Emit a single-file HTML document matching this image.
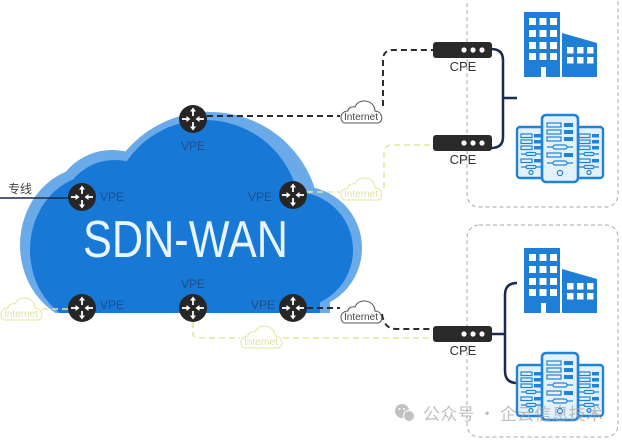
<!DOCTYPE html>
<html><head><meta charset="utf-8"><style>
html,body{margin:0;padding:0;background:#fff;}
svg{display:block;}
</style></head><body>
<svg width="622" height="441" viewBox="0 0 622 441" xmlns="http://www.w3.org/2000/svg">
<defs>
  <clipPath id="cb"><rect x="0" y="0" width="622" height="313"/></clipPath>
  <g id="router">
    <circle cx="0" cy="0" r="14" fill="#262626"/>
    <g stroke="#fff" stroke-width="1.8" fill="#fff">
      <line x1="0" y1="-3" x2="0" y2="-8"/><path d="M-3,-7.5 L0,-11.5 L3,-7.5 Z" stroke="none"/>
      <line x1="0" y1="3" x2="0" y2="8"/><path d="M-3,7.5 L0,11.5 L3,7.5 Z" stroke="none"/>
      <line x1="-11" y1="0" x2="-6" y2="0"/><path d="M-6.5,-3 L-2.5,0 L-6.5,3 Z" stroke="none"/>
      <line x1="11" y1="0" x2="6" y2="0"/><path d="M6.5,-3 L2.5,0 L6.5,3 Z" stroke="none"/>
    </g>
  </g>
  <path id="inet" d="M5,23 L37,23 C41,23 43,19 41,15 C40,12 37,11 35,11 C35,5 30,1 24,1 C19,1 16,4 15,7 C12,6 8,8 8,11 C4,11 1,14 1,17 C1,21 3,23 5,23 Z"/>
  <g id="cpe">
    <rect x="0" y="0" width="59" height="16" rx="3" fill="#2a2a2a"/>
    <circle cx="31" cy="8" r="2.6" fill="#fff"/><circle cx="40" cy="8" r="2.6" fill="#fff"/><circle cx="49" cy="8" r="2.6" fill="#fff"/>
  </g>
  <g id="bld">
    <rect x="524" y="12" width="36" height="65" fill="#1f7fd6"/>
    <path d="M562,33 L597,43 V77 H562 Z" fill="#1f7fd6"/>
    <g fill="#fff">
      <rect x="529" y="18" width="7" height="7"/><rect x="539.5" y="18" width="7" height="7"/><rect x="550" y="18" width="7" height="7"/>
      <rect x="529" y="30" width="7" height="7"/><rect x="539.5" y="30" width="7" height="7"/><rect x="550" y="30" width="7" height="7"/>
      <rect x="529" y="42" width="7" height="7"/><rect x="539.5" y="42" width="7" height="7"/><rect x="550" y="42" width="7" height="7"/>
      <rect x="529" y="53" width="7" height="7"/><rect x="539.5" y="53" width="7" height="7"/><rect x="550" y="53" width="7" height="7"/>
      <rect x="567" y="47" width="6.5" height="6.5"/><rect x="577" y="47" width="6.5" height="6.5"/><rect x="587" y="47" width="6.5" height="6.5"/>
      <rect x="567" y="57" width="6.5" height="6.5"/><rect x="577" y="57" width="6.5" height="6.5"/><rect x="587" y="57" width="6.5" height="6.5"/>
      <rect x="541" y="67" width="5" height="10"/>
    </g>
  </g>
  <g id="srvS">
    <rect x="0" y="0" width="28" height="51" rx="3" fill="#e3f1fb" stroke="#2183d6" stroke-width="2.4"/>
    <g fill="none" stroke="#2183d6" stroke-width="1.2">
      <rect x="4" y="7" width="11" height="3.5"/><rect x="4" y="13" width="11" height="3.5"/><rect x="4" y="19" width="11" height="3.5"/>
      <rect x="4" y="32" width="11" height="3.5"/>
      <line x1="4" y1="27" x2="24" y2="27"/><line x1="4" y1="40" x2="24" y2="40"/>
      <rect x="9" y="25.5" width="10" height="3" rx="1.5" fill="#e3f1fb"/><rect x="9" y="38.5" width="10" height="3" rx="1.5" fill="#e3f1fb"/>
      <circle cx="14" cy="45.5" r="2"/>
    </g>
    <g fill="#2183d6">
      <rect x="17" y="7" width="7" height="3.5"/><rect x="17" y="13" width="7" height="3.5"/><rect x="17" y="19" width="7" height="3.5"/><rect x="17" y="32" width="7" height="3.5"/>
    </g>
  </g>
  <g id="srvC">
    <rect x="0" y="0" width="36" height="67" rx="4" fill="#e3f1fb" stroke="#2183d6" stroke-width="2.6"/>
    <g fill="none" stroke="#2183d6" stroke-width="1.2">
      <rect x="5" y="8" width="14" height="4"/><rect x="5" y="15" width="14" height="4"/><rect x="5" y="22" width="14" height="4"/>
      <rect x="5" y="38" width="14" height="4"/>
      <line x1="5" y1="32" x2="31" y2="32"/><line x1="5" y1="48" x2="31" y2="48"/>
      <rect x="11" y="30" width="14" height="4" rx="2" fill="#e3f1fb"/><rect x="11" y="46" width="14" height="4" rx="2" fill="#e3f1fb"/>
      <circle cx="18" cy="58" r="2.6"/>
    </g>
    <g fill="#2183d6">
      <rect x="22" y="8" width="9" height="4"/><rect x="22" y="15" width="9" height="4"/><rect x="22" y="22" width="9" height="4"/><rect x="22" y="38" width="9" height="4"/>
    </g>
  </g>
</defs>

<rect width="622" height="441" fill="#fff"/>

<!-- dashed site boxes -->
<rect x="467" y="-12" width="151" height="219" rx="12" fill="none" stroke="#a8a8a8" stroke-width="1" stroke-dasharray="4 3"/>
<rect x="467" y="225" width="151" height="212" rx="12" fill="none" stroke="#a8a8a8" stroke-width="1" stroke-dasharray="4 3"/>

<!-- cloud back -->
<g clip-path="url(#cb)" fill="#6aaae8">
  <ellipse cx="90" cy="245" rx="70" ry="78"/>
  <circle cx="112" cy="210" r="60"/>
  <circle cx="140" cy="165" r="20"/>
  <circle cx="210" cy="222" r="110"/>
  <circle cx="300" cy="248" r="62"/>
  <rect x="55" y="200" width="275" height="120"/>
</g>
<!-- cloud front -->
<g clip-path="url(#cb)" fill="#1778d6">
  <ellipse cx="95" cy="250" rx="65" ry="75"/>
  <circle cx="115" cy="215" r="55"/>
  <circle cx="205" cy="215" r="95"/>
  <circle cx="295" cy="250" r="58"/>
  <rect x="60" y="200" width="260" height="120"/>
</g>

<text x="83" y="257" font-family="Liberation Sans, sans-serif" font-size="52" fill="#e8f4ff" textLength="205" lengthAdjust="spacingAndGlyphs">SDN-WAN</text>

<!-- connectors -->
<g fill="none" stroke="#1c2a48" stroke-width="1.5"><line x1="0" y1="198" x2="70" y2="198"/></g>
<text x="8" y="193" font-family="Liberation Sans, 'Noto Sans CJK SC', sans-serif" font-size="12" fill="#444">专线</text>

<g fill="none" stroke="#2b2b2b" stroke-width="2" stroke-dasharray="6 4">
  <path d="M207,116 H340"/>
  <path d="M383,106 V60 Q383,50 393,50 H433"/>
  <path d="M307,308 H340"/>
  <path d="M382,314 Q384,329 396,329 H433"/>
</g>
<g fill="none" stroke="#e3e79c" stroke-width="1.6" stroke-dasharray="6 4">
  <path d="M307,192 H340"/>
  <path d="M384,188 V153 Q384,145 392,145 H433"/>
  <path d="M193,322 V333 Q193,338 198,338 H240"/>
  <path d="M283,338 H433"/>
  <path d="M42,309 H68"/>
</g>

<!-- internet clouds -->
<g font-family="Liberation Sans, sans-serif" font-size="10" text-anchor="middle">
  <g transform="translate(340,100)"><use href="#inet" fill="#fff" stroke="#555" stroke-width="1"/><text x="21" y="20" fill="#444" textLength="34" lengthAdjust="spacingAndGlyphs">Internet</text></g>
  <g transform="translate(340,300)"><use href="#inet" fill="#fff" stroke="#555" stroke-width="1"/><text x="21" y="20" fill="#444" textLength="34" lengthAdjust="spacingAndGlyphs">Internet</text></g>
  <g transform="translate(340,177)"><use href="#inet" fill="#fff" stroke="#e3e79c" stroke-width="1"/><text x="21" y="20" fill="#e0e3a0" textLength="34" lengthAdjust="spacingAndGlyphs">Internet</text></g>
  <g transform="translate(240,325)"><use href="#inet" fill="#fff" stroke="#e3e79c" stroke-width="1"/><text x="21" y="20" fill="#e0e3a0" textLength="34" lengthAdjust="spacingAndGlyphs">Internet</text></g>
  <g transform="translate(0,297)"><use href="#inet" fill="#fff" stroke="#e3e79c" stroke-width="1"/><text x="21" y="20" fill="#e0e3a0" textLength="34" lengthAdjust="spacingAndGlyphs">Internet</text></g>
</g>

<!-- routers -->
<use href="#router" x="193" y="119"/>
<use href="#router" x="82" y="197"/>
<use href="#router" x="293" y="195"/>
<use href="#router" x="82" y="308"/>
<use href="#router" x="193" y="308"/>
<use href="#router" x="293" y="308"/>

<g font-family="Liberation Sans, sans-serif" font-size="12" fill="#1e4d8a">
  <text x="193" y="150" text-anchor="middle">VPE</text>
  <text x="100" y="201">VPE</text>
  <text x="248" y="201">VPE</text>
  <text x="100" y="309">VPE</text>
  <text x="193" y="288" text-anchor="middle">VPE</text>
  <text x="251" y="309">VPE</text>
</g>

<!-- brackets -->
<g fill="none" stroke="#1c2a4f" stroke-width="2.5">
  <path d="M491,49 Q503,49 503,60 V137 Q503,148 491,148"/>
  <line x1="503" y1="98" x2="517" y2="98"/>
  <line x1="491" y1="334" x2="505" y2="334"/>
  <path d="M517,283 Q505,283 505,295 V371 Q505,383 517,383"/>
</g>

<!-- CPEs -->
<use href="#cpe" x="433" y="42"/>
<use href="#cpe" x="433" y="135"/>
<use href="#cpe" x="433" y="326"/>
<g font-family="Liberation Sans, sans-serif" font-size="13" fill="#333" text-anchor="middle">
  <text x="463" y="71">CPE</text>
  <text x="463" y="164">CPE</text>
  <text x="463" y="355">CPE</text>
</g>

<!-- site 1 -->
<use href="#bld"/>
<use href="#srvS" x="517" y="127"/>
<use href="#srvS" x="575" y="127"/>
<use href="#srvC" x="542" y="115"/>
<!-- site 2 -->
<use href="#bld" y="236"/>
<use href="#srvS" x="517" y="365"/>
<use href="#srvS" x="575" y="365"/>
<use href="#srvC" x="542" y="353"/>

<!-- watermark -->
<g opacity="0.7">
  <circle cx="402" cy="411" r="7" fill="#a8a8a8"/>
  <circle cx="409" cy="416" r="5.5" fill="#a8a8a8" stroke="#fff" stroke-width="1"/>
  <circle cx="399.5" cy="409" r="1" fill="#fff"/><circle cx="404" cy="409" r="1" fill="#fff"/>
  <text x="423" y="420" font-family="'Noto Sans CJK SC', sans-serif" font-size="17" fill="#a5a5a5" textLength="180" lengthAdjust="spacing">公众号 · 企云信息技术</text>
</g>
</svg>
</body></html>
